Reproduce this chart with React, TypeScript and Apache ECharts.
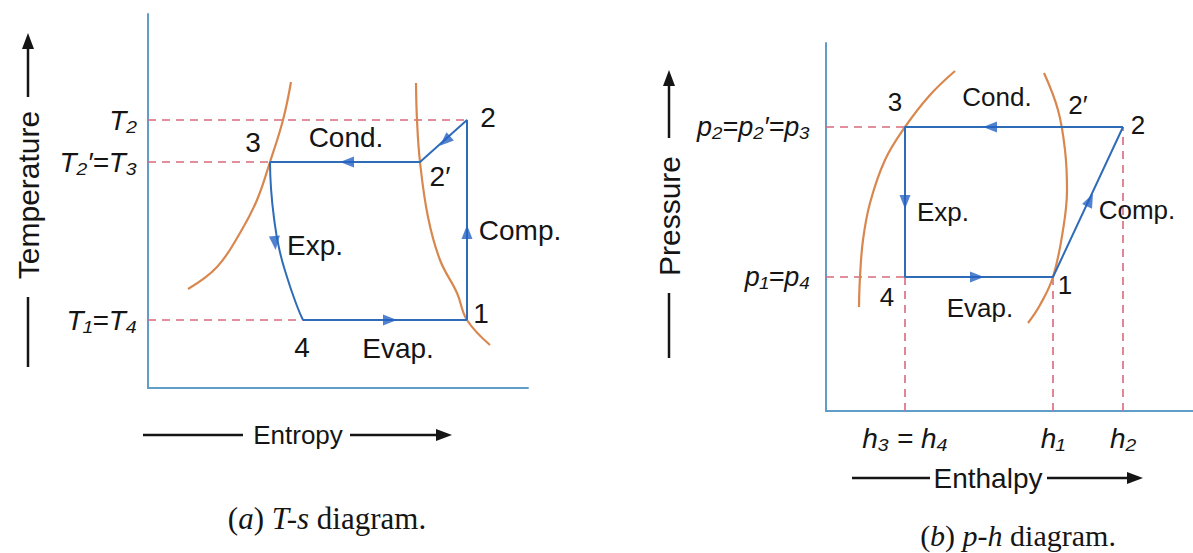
import React, { useEffect, useRef } from 'react';
import * as echarts from 'echarts';

// ---------- T-s diagram (arbitrary units) ----------
const tsStateNames = ['1', '2', '2′', '3', '4'];
const tsEntropy = [319, 319, 272, 122, 155];
const tsTemp = [68, 268, 226, 226, 68];

const tsLiquidS = [143, 135, 122, 109, 92, 69, 40];
const tsLiquidT = [306, 268, 226, 188, 155, 121, 99];
const tsVaporS = [268, 269, 272, 280, 292, 309, 319, 342];
const tsVaporT = [305, 268, 226, 171, 128, 95, 68, 43];
const tsExpS = [122, 123, 126, 131, 139, 149, 155];
const tsExpT = [226, 200, 170, 140, 111, 82, 68];

const tsTickT = [68, 226, 268];
const tsTickLabels = ['T₁=T₄', 'T₂′=T₃', 'T₂'];

const tsNotes = ['1', '2', '2′', '3', '4', 'Cond.', 'Exp.', 'Comp.', 'Evap.'];
const tsNoteS = [333, 340, 292, 105, 154, 198, 167, 372, 250];
const tsNoteT = [75, 271, 212, 246, 41, 251, 143, 158, 40];

const tsArrowS = [319, 297, 199, 127, 242];
const tsArrowT = [156, 247, 226, 145, 68];
const tsArrowRot = [0, 132, 90, 185, -90];

// ---------- p-h diagram (arbitrary units) ----------
const phStateNames = ['1', '2', '3', '4'];
const phEnthalpy = [227, 297, 79, 79];
const phPressure = [134, 284, 284, 134];

const phLiquidH = [129, 104, 79, 59, 44, 37, 34, 33];
const phLiquidP = [340, 316, 284, 251, 208, 171, 134, 104];
const phVaporH = [218, 232, 239, 241, 237, 227, 214, 202];
const phVaporP = [338, 301, 261, 221, 181, 134, 106, 88];

const phTickP = [134, 284];
const phTickPLabels = ['p₁=p₄', 'p₂=p₂′=p₃'];
const phTickH = [79, 227, 297];
const phTickHLabels = ['h₃ = h₄', 'h₁', 'h₂'];

const phNotes = ['1', '2', '2′', '3', '4', 'Cond.', 'Exp.', 'Comp.', 'Evap.'];
const phNoteH = [239, 312, 252, 69, 61, 171, 117, 311, 154];
const phNoteP = [126, 286, 306, 309, 114, 314, 199, 201, 103];

const phArrowH = [164, 79, 151, 264];
const phArrowP = [284, 209, 134, 211];
const phArrowRot = [90, 180, -90, -25];

// ---------- styles ----------
const AXIS = '#5f9ec9';
const CYCLE = '#2f6cb8';
const ARROW = '#2563c4';
const ORANGE = '#d8874f';
const DASH = '#d7697d';
const TEXT = '#151515';
const SANS = '"Liberation Sans", Arial, "DejaVu Sans", sans-serif';
const SERIF = '"Liberation Serif", "Times New Roman", serif';

const zip = (a: number[], b: number[]) => a.map((v, i) => [v, b[i]]);
const st = (names: string[], xs: number[], ys: number[], name: string) => {
  const i = names.indexOf(name);
  return [xs[i], ys[i]];
};

function lineSeries(idx: number, data: number[][], color: string, opts: any = {}) {
  return {
    type: 'line',
    xAxisIndex: idx,
    yAxisIndex: idx,
    data,
    symbol: 'none',
    silent: true,
    lineStyle: { color, width: 2, ...(opts.lineStyle || {}) },
    smooth: opts.smooth ?? false,
    z: opts.z ?? 2,
  };
}

function arrowSeries(idx: number, xs: number[], ys: number[], rots: number[]) {
  return {
    type: 'scatter',
    xAxisIndex: idx,
    yAxisIndex: idx,
    silent: true,
    symbol: 'triangle',
    symbolSize: [11, 14],
    itemStyle: { color: ARROW },
    z: 5,
    data: xs.map((x, i) => ({ value: [x, ys[i]], symbolRotate: rots[i] })),
  };
}

function noteSeries(idx: number, names: string[], xs: number[], ys: number[], size: number) {
  return {
    type: 'scatter',
    xAxisIndex: idx,
    yAxisIndex: idx,
    silent: true,
    symbolSize: 1,
    itemStyle: { color: 'transparent', opacity: 1 },
    z: 6,
    label: {
      show: true,
      position: 'inside',
      formatter: '{b}',
      color: TEXT,
      opacity: 1,
      textBorderWidth: 0,
      textBorderColor: 'transparent',
      fontSize: size,
      fontFamily: SANS,
    },
    data: names.map((n, i) => ({ name: n, value: [xs[i], ys[i]] })),
  };
}

function buildOption() {
  const t1 = st(tsStateNames, tsEntropy, tsTemp, '1');
  const t2 = st(tsStateNames, tsEntropy, tsTemp, '2');
  const t2p = st(tsStateNames, tsEntropy, tsTemp, '2′');
  const t3 = st(tsStateNames, tsEntropy, tsTemp, '3');
  const t4 = st(tsStateNames, tsEntropy, tsTemp, '4');

  const p1 = st(phStateNames, phEnthalpy, phPressure, '1');
  const p2 = st(phStateNames, phEnthalpy, phPressure, '2');
  const p3 = st(phStateNames, phEnthalpy, phPressure, '3');
  const p4 = st(phStateNames, phEnthalpy, phPressure, '4');

  const dashStyle = { lineStyle: { type: [8, 6], width: 1.6 }, z: 1 };
  const orangeStyle = { smooth: 0.4, lineStyle: { width: 2.2 } };

  const baseAxis = {
    type: 'value',
    min: 0,
    axisLine: { show: true, lineStyle: { color: AXIS, width: 2 } },
    axisTick: { show: false },
    splitLine: { show: false },
  };

  const lookup = (vals: number[], labels: string[]) => (v: number) => {
    const i = vals.indexOf(v);
    return i >= 0 ? labels[i] : '';
  };

  const centered = { align: 'center', verticalAlign: 'middle', textAlign: 'center', textVerticalAlign: 'middle' };

  return {
    animation: false,
    backgroundColor: '#ffffff',
    grid: [
      { left: 148, top: 14, width: 380, height: 374 },
      { left: 826, top: 43, width: 367, height: 368 },
    ],
    xAxis: [
      { ...baseAxis, gridIndex: 0, max: 380, axisLabel: { show: false } },
      {
        ...baseAxis,
        gridIndex: 1,
        max: 367,
        axisLabel: {
          show: true,
          customValues: phTickH,
          formatter: lookup(phTickH, phTickHLabels),
          color: TEXT,
          fontSize: 28,
          fontStyle: 'italic',
          fontFamily: SANS,
          margin: 13,
        },
      },
    ],
    yAxis: [
      {
        ...baseAxis,
        gridIndex: 0,
        max: 374,
        axisLabel: {
          show: true,
          customValues: tsTickT,
          formatter: lookup(tsTickT, tsTickLabels),
          color: TEXT,
          fontSize: 28,
          fontStyle: 'italic',
          fontFamily: SANS,
          margin: 11,
        },
      },
      {
        ...baseAxis,
        gridIndex: 1,
        max: 368,
        axisLabel: {
          show: true,
          customValues: phTickP,
          formatter: lookup(phTickP, phTickPLabels),
          color: TEXT,
          fontSize: 27,
          fontStyle: 'italic',
          fontFamily: SANS,
          margin: 16,
        },
      },
    ],
    series: [
      // ---- T-s ----
      lineSeries(0, [[0, t2[1]], t2], DASH, dashStyle),
      lineSeries(0, [[0, t3[1]], t3], DASH, dashStyle),
      lineSeries(0, [[0, t4[1]], t4], DASH, dashStyle),
      lineSeries(0, zip(tsLiquidS, tsLiquidT), ORANGE, orangeStyle),
      lineSeries(0, zip(tsVaporS, tsVaporT), ORANGE, orangeStyle),
      lineSeries(0, [t1, t2, t2p, t3], CYCLE, { z: 3 }),
      lineSeries(0, zip(tsExpS, tsExpT), CYCLE, { smooth: 0.5, z: 3 }),
      lineSeries(0, [t4, t1], CYCLE, { z: 3 }),
      arrowSeries(0, tsArrowS, tsArrowT, tsArrowRot),
      noteSeries(0, tsNotes, tsNoteS, tsNoteT, 28),
      // ---- p-h ----
      lineSeries(1, [[0, p3[1]], p3], DASH, dashStyle),
      lineSeries(1, [[0, p4[1]], p4], DASH, dashStyle),
      lineSeries(1, [[p4[0], 0], p4], DASH, dashStyle),
      lineSeries(1, [[p1[0], 0], p1], DASH, dashStyle),
      lineSeries(1, [[p2[0], 0], p2], DASH, dashStyle),
      lineSeries(1, zip(phLiquidH, phLiquidP), ORANGE, orangeStyle),
      lineSeries(1, zip(phVaporH, phVaporP), ORANGE, orangeStyle),
      lineSeries(1, [p2, p3, p4, p1, p2], CYCLE, { z: 3 }),
      arrowSeries(1, phArrowH, phArrowP, phArrowRot),
      noteSeries(1, phNotes, phNoteH, phNoteP, 26),
    ],
    graphic: [
      // Temperature axis title
      {
        type: 'text', x: 28, y: 195, rotation: Math.PI / 2, silent: true,
        style: { text: 'Temperature', fontSize: 30, fontFamily: SANS, fill: TEXT, ...centered },
      },
      { type: 'line', silent: true, shape: { x1: 28, y1: 97, x2: 28, y2: 46 }, style: { stroke: TEXT, lineWidth: 2.5 } },
      { type: 'polygon', silent: true, shape: { points: [[28, 33], [22, 49], [34, 49]] }, style: { fill: TEXT } },
      { type: 'line', silent: true, shape: { x1: 28, y1: 297, x2: 28, y2: 367 }, style: { stroke: TEXT, lineWidth: 2.5 } },
      // Pressure axis title
      {
        type: 'text', x: 669, y: 216, rotation: Math.PI / 2, silent: true,
        style: { text: 'Pressure', fontSize: 30, fontFamily: SANS, fill: TEXT, ...centered },
      },
      { type: 'line', silent: true, shape: { x1: 669, y1: 138, x2: 669, y2: 84 }, style: { stroke: TEXT, lineWidth: 2.5 } },
      { type: 'polygon', silent: true, shape: { points: [[669, 70], [663, 86], [675, 86]] }, style: { fill: TEXT } },
      { type: 'line', silent: true, shape: { x1: 669, y1: 293, x2: 669, y2: 358 }, style: { stroke: TEXT, lineWidth: 2.5 } },
      // Entropy axis title
      { type: 'line', silent: true, shape: { x1: 143, y1: 435, x2: 243, y2: 435 }, style: { stroke: TEXT, lineWidth: 2.5 } },
      {
        type: 'text', x: 298, y: 435, silent: true,
        style: { text: 'Entropy', fontSize: 26, fontFamily: SANS, fill: TEXT, ...centered },
      },
      { type: 'line', silent: true, shape: { x1: 350, y1: 435, x2: 440, y2: 435 }, style: { stroke: TEXT, lineWidth: 2.5 } },
      { type: 'polygon', silent: true, shape: { points: [[452, 435], [436, 429], [436, 441]] }, style: { fill: TEXT } },
      // Enthalpy axis title
      { type: 'line', silent: true, shape: { x1: 852, y1: 478, x2: 930, y2: 478 }, style: { stroke: TEXT, lineWidth: 2.5 } },
      {
        type: 'text', x: 988, y: 478, silent: true,
        style: { text: 'Enthalpy', fontSize: 28, fontFamily: SANS, fill: TEXT, ...centered },
      },
      { type: 'line', silent: true, shape: { x1: 1047, y1: 478, x2: 1130, y2: 478 }, style: { stroke: TEXT, lineWidth: 2.5 } },
      { type: 'polygon', silent: true, shape: { points: [[1143, 478], [1127, 472], [1127, 484]] }, style: { fill: TEXT } },
      // Captions
      {
        type: 'text', x: 327, y: 518, silent: true,
        style: {
          text: '({i|a}) {i|T-s} diagram.', fontSize: 31, fontFamily: SERIF, fill: TEXT, ...centered,
          rich: { i: { fontStyle: 'italic', fontSize: 31, fontFamily: SERIF, fill: TEXT, color: TEXT } },
        },
      },
      {
        type: 'text', x: 1018, y: 535, silent: true,
        style: {
          text: '({i|b}) {i|p-h} diagram.', fontSize: 30, fontFamily: SERIF, fill: TEXT, ...centered,
          rich: { i: { fontStyle: 'italic', fontSize: 30, fontFamily: SERIF, fill: TEXT, color: TEXT } },
        },
      },
    ],
  };
}

export default function App() {
  const ref = useRef<HTMLDivElement>(null);
  useEffect(() => {
    if (!ref.current) return;
    const chart = echarts.init(ref.current, null, { renderer: 'svg' });
    chart.setOption(buildOption() as any);
    return () => chart.dispose();
  }, []);
  return (
    <div
      ref={ref}
      style={{ position: 'absolute', left: 0, top: 0, width: 1193, height: 553, background: '#fff' }}
    />
  );
}
